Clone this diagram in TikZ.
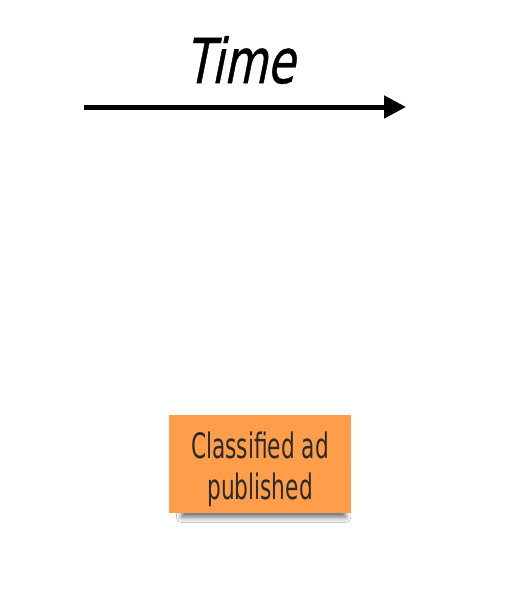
\documentclass[tikz,border=0pt]{standalone}
\usepackage{fontspec}
\usetikzlibrary{arrows.meta,shadows.blur}
\newfontfamily\timefont[FakeStretch=0.72,FakeSlant=0.2,FakeBold=0.6]{DejaVu Sans}
\newfontfamily\notefont[FakeStretch=0.62]{DejaVu Sans}
\definecolor{noteorange}{HTML}{FF9E4A}
\definecolor{inkdark}{HTML}{2A2A2A}
\tikzset{
  timeline/.style={line width=5pt, -{Triangle[length=22pt,width=22pt]}},
  sticky/.style={fill=noteorange, minimum width=182pt, minimum height=98pt,
    inner sep=0pt,
    blur shadow={shadow xshift=4pt, shadow yshift=-10pt, shadow opacity=60,
      shadow blur radius=6pt, shadow scale=0.9}},
  notetext/.style={align=center, text=inkdark, inner sep=0pt,
    font=\notefont\fontsize{35}{41}\selectfont},
  label/.style={font=\timefont\fontsize{62}{62}\selectfont, text=black, inner sep=0pt}
}
\begin{document}
\begin{tikzpicture}[x=1pt,y=-1pt]
  \useasboundingbox (0,0) rectangle (511,594);
  \fill[white] (0,0) rectangle (511,594);
  % time axis
  \coordinate (tstart) at (84,107);
  \coordinate (tend) at (406,107);
  \draw[timeline] (tstart) -- (tend);
  \node[label] (time) at (240,60) {Time};
  % event sticky note
  \node[sticky] (ad) at (260,464) {};
  \node[notetext] (adtext) at ([yshift=-5pt]ad.center) {Classified ad\\published};
\end{tikzpicture}
\end{document}
